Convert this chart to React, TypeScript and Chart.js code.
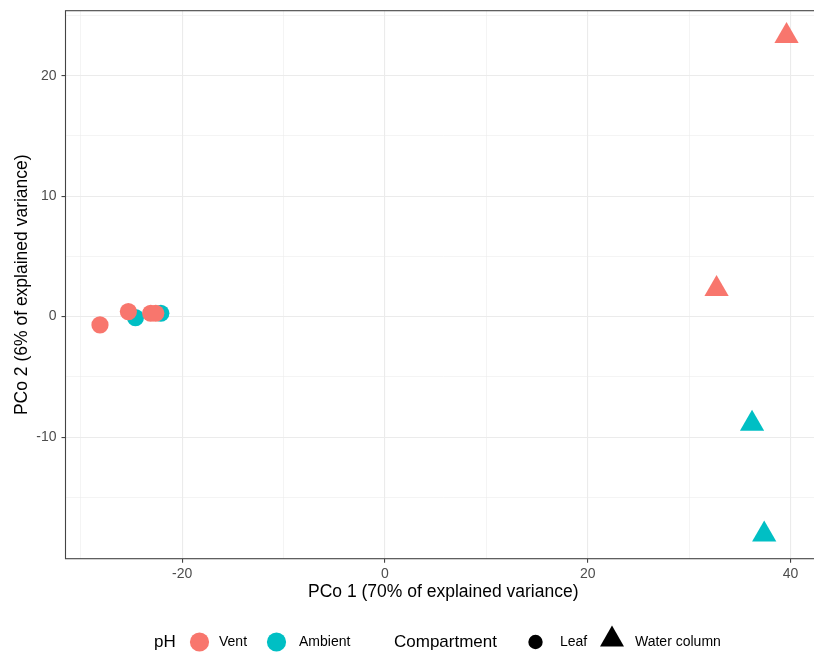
import { useEffect, useRef } from 'react';
import { Chart, registerables } from 'chart.js';

Chart.register(...registerables);

// PCo scores per sample, grouped by pH treatment and compartment
const ventLeafX = [-28.1, -25.3, -23.1, -22.6];
const ventLeafY = [-0.69, 0.42, 0.28, 0.28];
const ambientLeafX = [-24.6, -22.1];
const ambientLeafY = [-0.08, 0.28];
const ventWaterX = [39.6, 32.7];
const ventWaterY = [23.3, 2.3];
const ambientWaterX = [36.2, 37.4];
const ambientWaterY = [-8.9, -18.1];

// labelled (major) breaks and the unlabelled minor breaks between them
const xLabelTicks = [-20, 0, 20, 40];
const xMinorTicks = [-30, -10, 10, 30];
const yLabelTicks = [-10, 0, 10, 20];
const yMinorTicks = [-15, -5, 5, 15, 25];

const phLevels = ['Vent', 'Ambient'];
const compartments = ['Leaf', 'Water column'];

const VENT = '#F8766D';
const AMBIENT = '#00BFC4';
const FRAME = '#444444';
const FONT = '"Liberation Sans", Arial, Helvetica, sans-serif';

const toPoints = (xs: number[], ys: number[]) => xs.map((x, i) => ({ x, y: ys[i] }));

const frameAndLegend = {
  id: 'frameAndLegend',
  afterDatasetsDraw(chart: any) {
    const { ctx, chartArea: a } = chart;
    ctx.save();
    ctx.strokeStyle = FRAME;
    ctx.lineWidth = 1.1;
    ctx.strokeRect(a.left, a.top, a.right - a.left, a.bottom - a.top);
    ctx.restore();
  },
  afterDraw(chart: any) {
    const { ctx } = chart;
    const cy = 642;
    ctx.save();
    ctx.textBaseline = 'middle';
    ctx.textAlign = 'left';
    ctx.fillStyle = '#000000';

    ctx.font = `17px ${FONT}`;
    ctx.fillText('pH', 154, cy);

    const phColors = [VENT, AMBIENT];
    const phCircleX = [199.5, 276.5];
    const phTextX = [219, 299];
    phLevels.forEach((lab, i) => {
      ctx.fillStyle = phColors[i];
      ctx.beginPath();
      ctx.arc(phCircleX[i], cy, 9.6, 0, Math.PI * 2);
      ctx.fill();
      ctx.fillStyle = '#000000';
      ctx.font = `14px ${FONT}`;
      ctx.fillText(lab, phTextX[i], cy);
    });

    ctx.font = `17px ${FONT}`;
    ctx.fillText('Compartment', 394, cy);

    ctx.beginPath();
    ctx.arc(535.5, cy, 7.2, 0, Math.PI * 2);
    ctx.fill();
    ctx.font = `14px ${FONT}`;
    ctx.fillText(compartments[0], 560, cy);

    ctx.beginPath();
    ctx.moveTo(612, 625.5);
    ctx.lineTo(624, 646.5);
    ctx.lineTo(600, 646.5);
    ctx.closePath();
    ctx.fill();
    ctx.fillText(compartments[1], 635, cy);
    ctx.restore();
  },
};

export default function App() {
  const canvasRef = useRef<HTMLCanvasElement | null>(null);

  useEffect(() => {
    const canvas = canvasRef.current;
    if (!canvas) return;

    const gridWidth = (ctx: any, majors: number[]) =>
      majors.includes(ctx.tick?.value) ? 1.1 : 0.55;
    const tickCol = (ctx: any, majors: number[]) =>
      majors.includes(ctx.tick?.value) ? FRAME : 'rgba(0,0,0,0)';
    const setTicks = (majors: number[], minors: number[]) => (s: any) => {
      s.ticks = [...majors, ...minors].sort((a, b) => a - b).map((value) => ({ value }));
    };

    const chart = new Chart(canvas, {
      type: 'scatter',
      data: {
        datasets: [
          {
            label: 'Vent · Leaf',
            data: toPoints(ventLeafX, ventLeafY),
            pointStyle: 'circle',
            pointRadius: 8.6,
            backgroundColor: VENT,
            borderWidth: 0,
          },
          {
            label: 'Ambient · Leaf',
            data: toPoints(ambientLeafX, ambientLeafY),
            pointStyle: 'circle',
            pointRadius: 8.6,
            backgroundColor: AMBIENT,
            borderWidth: 0,
          },
          {
            label: 'Vent · Water column',
            data: toPoints(ventWaterX, ventWaterY),
            pointStyle: 'triangle',
            pointRadius: 14,
            backgroundColor: VENT,
            borderWidth: 0,
          },
          {
            label: 'Ambient · Water column',
            data: toPoints(ambientWaterX, ambientWaterY),
            pointStyle: 'triangle',
            pointRadius: 14,
            backgroundColor: AMBIENT,
            borderWidth: 0,
          },
        ],
      },
      options: {
        responsive: false,
        animation: false,
        layout: { autoPadding: false, padding: { left: 0, top: 10.7, right: 9, bottom: 0 } },
        plugins: {
          legend: { display: false },
          tooltip: { enabled: false },
        },
        scales: {
          x: {
            type: 'linear',
            min: -31.5,
            max: 43.0,
            border: { display: false },
            afterBuildTicks: setTicks(xLabelTicks, xMinorTicks),
            grid: {
              color: '#EBEBEB',
              lineWidth: (c: any) => gridWidth(c, xLabelTicks),
              tickColor: (c: any) => tickCol(c, xLabelTicks),
              tickWidth: 1.1,
              tickLength: 4,
            },
            ticks: {
              autoSkip: false,
              maxRotation: 0,
              padding: 3,
              color: '#4D4D4D',
              font: { family: FONT, size: 14 },
              callback: (v: any) => (xLabelTicks.includes(Number(v)) ? String(v) : ''),
            },
            title: {
              display: true,
              text: 'PCo 1 (70% of explained variance)',
              color: '#000000',
              font: { family: FONT, size: 17.5 },
              padding: { top: 0, bottom: 50.5 },
            },
            afterFit: (s: any) => {
              s.height = 94.3;
              s.paddingLeft = 0;
              s.paddingRight = 0;
            },
          },
          y: {
            type: 'linear',
            min: -20.1,
            max: 25.4,
            border: { display: false },
            afterBuildTicks: setTicks(yLabelTicks, yMinorTicks),
            grid: {
              color: '#EBEBEB',
              lineWidth: (c: any) => gridWidth(c, yLabelTicks),
              tickColor: (c: any) => tickCol(c, yLabelTicks),
              tickWidth: 1.1,
              tickLength: 4,
            },
            ticks: {
              autoSkip: false,
              padding: 5,
              color: '#4D4D4D',
              font: { family: FONT, size: 14 },
              callback: (v: any) => (yLabelTicks.includes(Number(v)) ? String(v) : ''),
            },
            title: {
              display: true,
              text: 'PCo 2 (6% of explained variance)',
              color: '#000000',
              font: { family: FONT, size: 17.5 },
              padding: { top: 11.5, bottom: 0 },
            },
            afterFit: (s: any) => {
              s.width = 65.5;
              s.paddingTop = 0;
              s.paddingBottom = 0;
            },
          },
        },
      },
      plugins: [frameAndLegend],
    });

    return () => chart.destroy();
  }, []);

  return (
    <div
      style={{
        position: 'absolute',
        left: 0,
        top: 0,
        width: 814,
        height: 653,
        overflow: 'hidden',
        background: '#ffffff',
      }}
    >
      <canvas ref={canvasRef} width={830} height={653} style={{ width: 830, height: 653, display: 'block' }} />
    </div>
  );
}
